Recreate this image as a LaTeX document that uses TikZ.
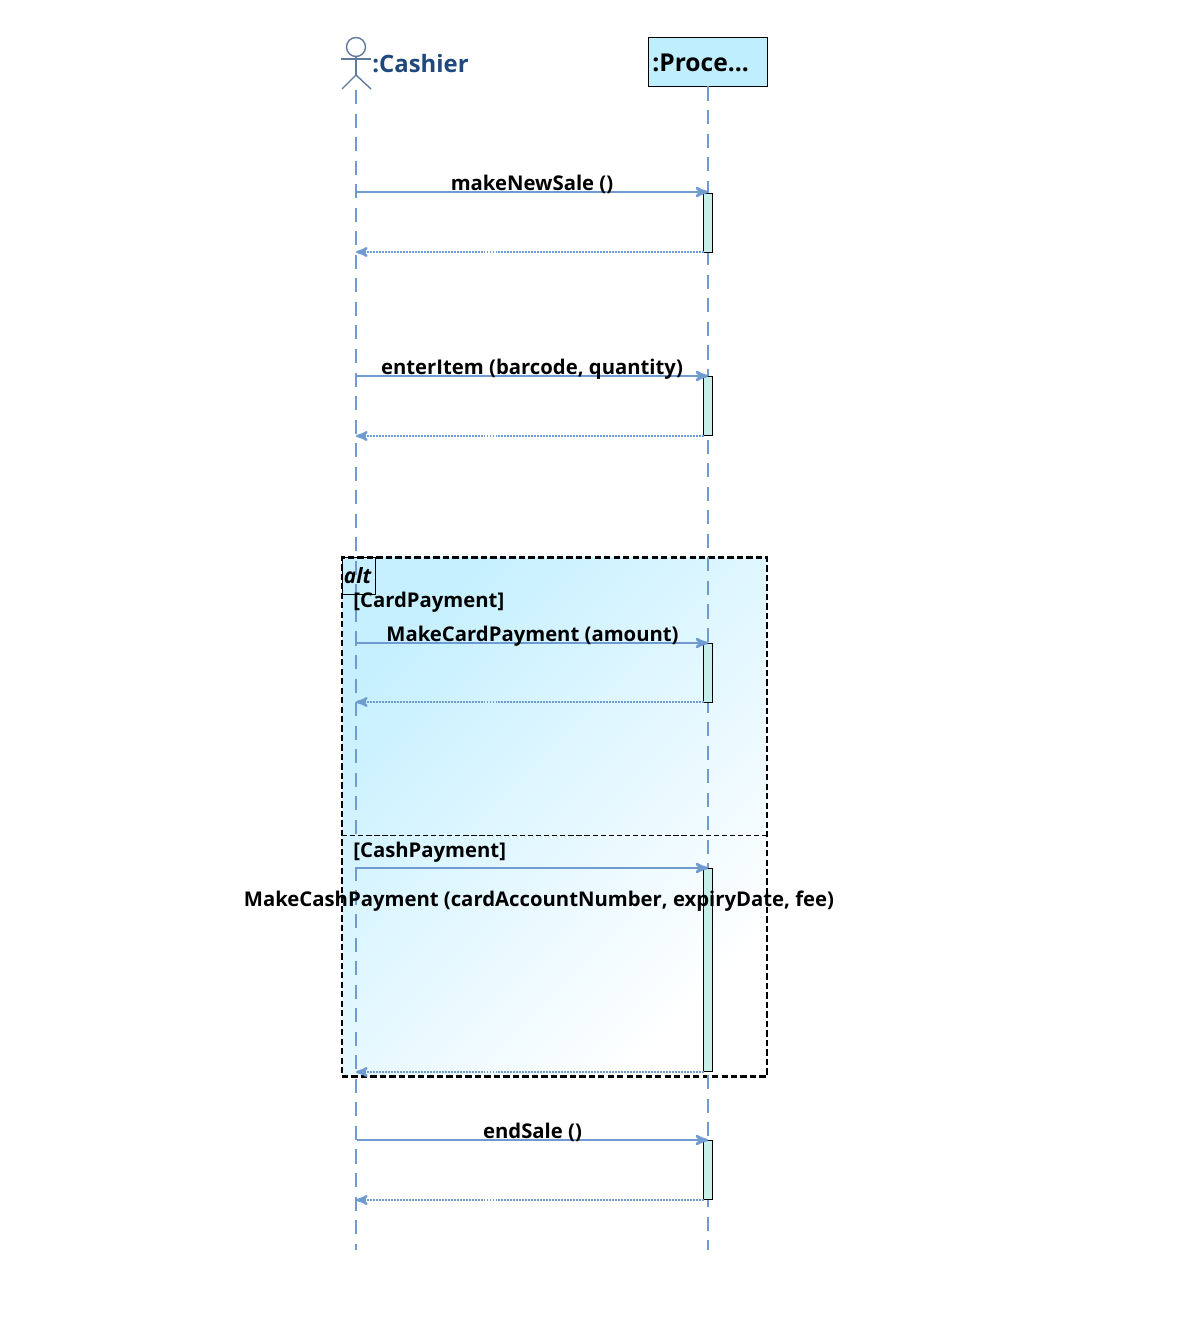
\documentclass[tikz,border=0pt]{standalone}
\usepackage{fontspec}
\setmainfont{Open Sans}
\usepackage{tikz}
\usetikzlibrary{arrows, calc, positioning}
\definecolor{lifeblue}{HTML}{6F9BD1}
\definecolor{headblue}{HTML}{BFEFFF}
\definecolor{framblue}{HTML}{C6F0FF}
\definecolor{barteal}{HTML}{C5EFE8}
\definecolor{actorgrey}{HTML}{5F7A9C}
\definecolor{namedark}{HTML}{1F497D}
\tikzset{
	lifeline/.style={draw=lifeblue, line width=1.4pt, dash pattern=on 8pt off 5.4pt},
	callmsg/.style={->, >=stealth', draw=lifeblue, line width=1.4pt},
	returnmsg/.style={->, >=stealth', draw=lifeblue, line width=1.3pt, dash pattern=on 1.1pt off 0.6pt},
	activebar/.style={draw, fill=barteal, line width=0.7pt, minimum width=5.1pt, inner sep=0pt, outer sep=0pt, anchor=north},
	msglabel/.style={font=\bfseries\fontsize{11.55}{14}\selectfont, inner sep=0pt, anchor=base}
}
\begin{document}
\begin{tikzpicture}[x=0.02cm, y=-0.02cm]
		\useasboundingbox (0,0) rectangle (1196,1318);

		% alt frame
		\node(altframe) [draw, line width=1.2pt, dash pattern=on 3.6pt off 1.8pt, left color=framblue, right color=white, shading angle=45, minimum width=425*0.02cm, minimum height=519*0.02cm, inner sep=0pt, outer sep=0pt, anchor=north west] at (342,557.5) {};
		\node(alttag) [draw, line width=0.45pt, minimum width=33*0.02cm, minimum height=37*0.02cm, inner sep=0pt, outer sep=0pt, anchor=north west] at (342,557.5) {};
		\node[font=\bfseries\itshape\fontsize{12}{14}\selectfont, inner sep=0pt] (alttext) at (357.5,575.5) {alt};
		\coordinate (divleft) at (342,835.5);
		\coordinate (divright) at (767,835.5);
		\draw[line width=0.5pt, dash pattern=on 3pt off 1.6pt] (divleft) -- (divright);

		% heads
		\node(head) [circle, draw=actorgrey, line width=0.8pt, minimum size=19*0.02cm, inner sep=0pt, outer sep=0pt] at (356,47) {};
		\coordinate (hip) at (356,75);
		\coordinate (armleft) at (341,59);
		\coordinate (armright) at (371,59);
		\coordinate (footleft) at (342,89);
		\coordinate (footright) at (371,89);
		\draw[draw=actorgrey, line width=0.8pt] (head.south) -- (hip);
		\draw[draw=actorgrey, line width=0.8pt] (armleft) -- (armright);
		\draw[draw=actorgrey, line width=0.8pt] (footleft) -- (hip) -- (footright);
		\node(cashier) [font=\bfseries\fontsize{13.6}{16}\selectfont, text=namedark, inner sep=0pt, anchor=base west] at (372,72) {:Cashier};
		\node(proc) [draw, fill=headblue, line width=0.7pt, minimum width=119*0.02cm, minimum height=49*0.02cm, inner sep=0pt, outer sep=0pt] at (708,62) {};
		\node(proctext) [font=\bfseries\fontsize{14}{16}\selectfont, inner sep=0pt, anchor=base west] at (652,71.3) {:Proce...};

		% lifelines
		\coordinate (cashierend) at (356,1250);
		\coordinate (procend) at (708,1250);
		\coordinate (cashierstart) at (356,90);
		\draw[lifeline] (cashierstart) -- (cashierend);
		\draw[lifeline] (proc.south) -- (procend);

		% activations
		\node(barA) [activebar, minimum height=59*0.02cm] at (708,193.5) {};
		\node(barB) [activebar, minimum height=59*0.02cm] at (708,376.5) {};
		\node(barC) [activebar, minimum height=59*0.02cm] at (708,643.5) {};
		\node(barD) [activebar, minimum height=203*0.02cm] at (708,868.5) {};
		\node(barE) [activebar, minimum height=59*0.02cm] at (708,1140.5) {};

		% ends of the messages on the cashier lifeline
		\coordinate (callA) at (356,192);
		\coordinate (backA) at (356,252);
		\coordinate (callB) at (356,376);
		\coordinate (backB) at (356,436);
		\coordinate (callC) at (357,643);
		\coordinate (backC) at (356,702);
		\coordinate (callD) at (356,868);
		\coordinate (backD) at (356,1072);
		\coordinate (callE) at (357,1140);
		\coordinate (backE) at (356,1200);

		\draw[callmsg] (callA) -- (callA -| barA.north) node[midway, msglabel, yshift=1pt] {makeNewSale ()};
		\draw[returnmsg] (backA -| barA.west) -- (backA);
		\draw[callmsg] (callB) -- (callB -| barB.north) node[midway, msglabel, yshift=1pt] {enterItem (barcode, quantity)};
		\draw[returnmsg] (backB -| barB.west) -- (backB);
		\draw[callmsg] (callC) -- (callC -| barC.north) node[midway, msglabel, yshift=1pt] {MakeCardPayment (amount)};
		\draw[returnmsg] (backC -| barC.west) -- (backC);
		\draw[callmsg] (callD) -- (callD -| barD.north);
		\draw[returnmsg] (backD -| barD.west) -- (backD);
		\draw[callmsg] (callE) -- (callE -| barE.north) node[midway, msglabel, yshift=1pt] {endSale ()};
		\draw[returnmsg] (backE -| barE.west) -- (backE);

		\node(cardguard) [msglabel, anchor=base west] at (353,607) {[CardPayment]};
		\node(cashguard) [msglabel, anchor=base west] at (353,857) {[CashPayment]};
		\node(cashlabel) [msglabel] at (539,906) {MakeCashPayment (cardAccountNumber, expiryDate, fee)};

		\end{tikzpicture}
\end{document}
